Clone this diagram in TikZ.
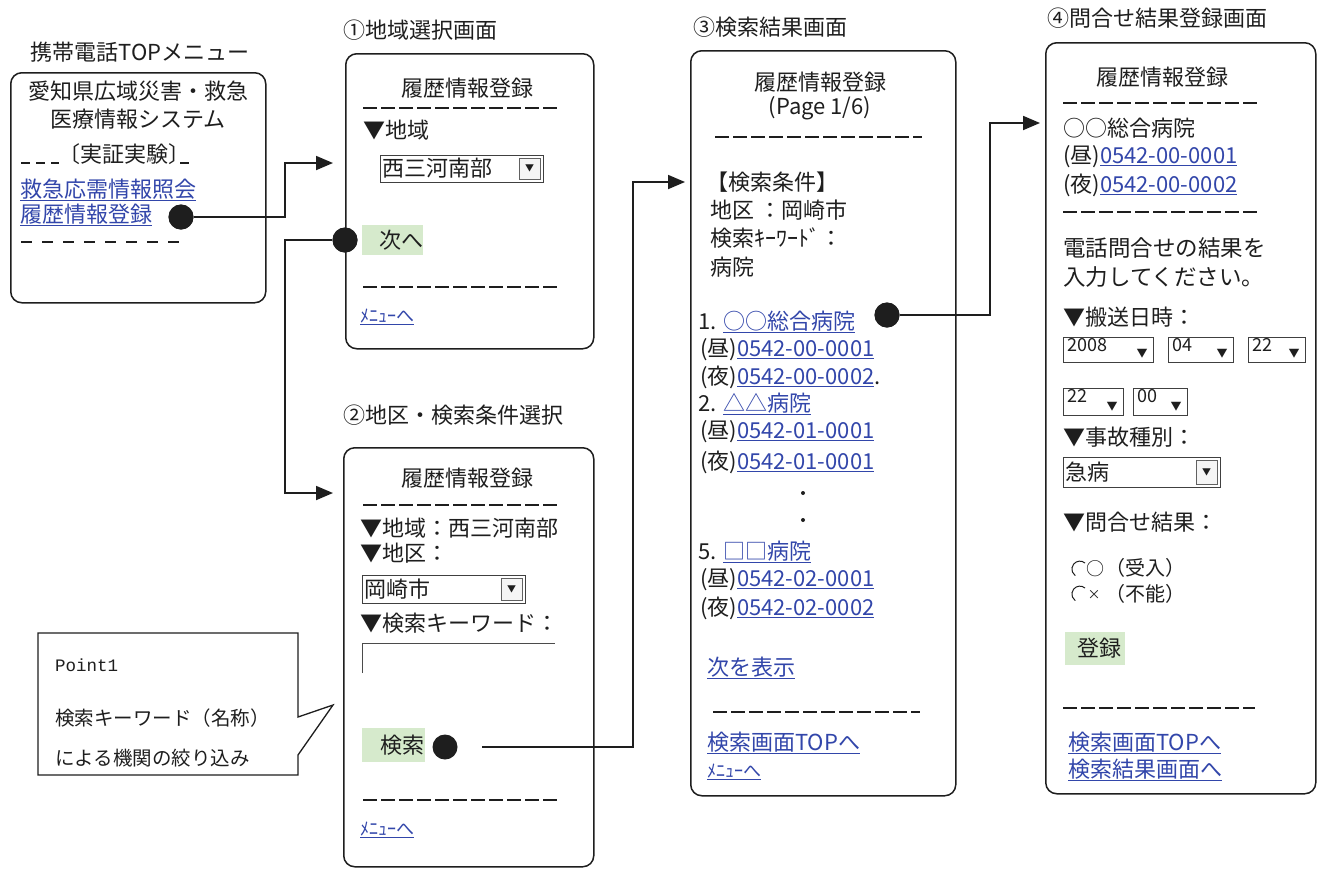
\documentclass[tikz,border=0pt]{standalone}
\usepackage{fontspec}
\setmainfont{Noto Sans CJK JP}
\newfontfamily\monof{Liberation Mono}
\usetikzlibrary{arrows.meta,calc}
\definecolor{linkblue}{RGB}{50,70,170}
\definecolor{btngreen}{RGB}{214,234,204}
\definecolor{ink}{RGB}{30,30,30}
\newcommand{\ddsel}[6]{%
  \node[draw=ink!85,line width=0.9pt,anchor=north west,minimum width={#4-#2},minimum height={#5-#3},inner sep=0pt] (#1) at (#2,#3) {};
  \draw[fill=gray!8,draw=ink!70,line width=0.7pt] ({#4-24},{#3+3}) rectangle ({#4-3},{#5-3});
  \node[inner sep=0pt,font=\fontsize{9}{10}\selectfont,text=ink] (#1-b) at ({#4-13.5},{(#3+#5)/2}) {▼};
  \node[txt] (#1-t) at ({#2+2},{(#3+#5)/2}) {#6};}
\newcommand{\ddmini}[6]{%
  \node[draw=ink!85,line width=0.9pt,anchor=north west,minimum width={#4-#2},minimum height={#5-#3},inner sep=0pt] (#1) at (#2,#3) {};
  \node[inner sep=0pt,font=\fontsize{11}{12}\selectfont,text=ink] (#1-b) at ({#4-11},{#5-8}) {▼};
  \node[inner sep=0pt,anchor=north west,font=\fontsize{18}{19}\selectfont,text=ink] (#1-t) at ({#2+4},{#3+1}) {#6};}
\begin{document}
\begin{tikzpicture}[x=1pt,y=-1pt,
  txt/.style={anchor=west,inner sep=0pt,font=\fontsize{22}{24}\selectfont,text=ink},
  ctr/.style={inner sep=0pt,font=\fontsize{22}{24}\selectfont,text=ink},
  lnk/.style={txt,text=linkblue},
  smalllink/.style={anchor=west,inner sep=0pt,font=\fontsize{18}{19}\selectfont,text=linkblue},
  screen/.style={draw=ink,line width=1.5pt,rounded corners=11pt,anchor=north west,inner sep=0pt},
  sep/.style={draw=ink,line width=1.5pt,dash pattern=on 14pt off 4pt},
  dot/.style={circle,fill=ink,minimum size=25pt,inner sep=0pt},
  conn/.style={draw=ink,line width=1.8pt},
  arr/.style={conn,-{Triangle[length=17pt,width=14pt]}},
  btn/.style={fill=btngreen,draw=none,anchor=north west,inner sep=0pt},
  note/.style={anchor=west,inner sep=0pt,font=\fontsize{19.5}{21}\selectfont,text=ink}]
\useasboundingbox (0,0) rectangle (1324,868);
\fill[white] (0,0) rectangle (1324,868);

% ---------- menu box ----------
\node[ctr] (m-title) at (140,52) {携帯電話TOPメニュー};
\node[screen,minimum width=255,minimum height=230] (s0) at (10,72) {};
\node[ctr] (m-a) at (138,91) {愛知県広域災害・救急};
\node[ctr] (m-b) at (138,119) {医療情報システム};
\draw[ink,line width=1.3pt] (21,163) -- (30,163) (36,163) -- (45,163) (51,163) -- (59,163) (180,163) -- (189,163);
\node[txt] (m-c) at (58,154) {〔実証実験〕};
\node[lnk] (m-l1) at (20,190) {\underline{救急応需情報照会}};
\node[lnk] (m-l2) at (20,215) {\underline{履歴情報登録}};
\draw[ink,line width=1.4pt,dash pattern=on 11pt off 10pt] (21,242) -- (187,242);
\node[dot] (d1) at (181,217) {};

% ---------- screen 1 ----------
\node[txt] (s1-title) at (343,30) {①地域選択画面};
\node[screen,minimum width=248,minimum height=295] (s1) at (345,53) {};
\node[ctr] (s1-h) at (467,88) {履歴情報登録};
\draw[sep] (363,108) -- (560,108);
\node[txt] (s1-a) at (363,130) {▼地域};
\ddsel{s1dd}{380}{155}{543}{182}{西三河南部}
\node[btn,minimum width=61,minimum height=30] (s1-btn) at (362,225) {};
\node[ctr] (s1-bt) at (401,240) {次へ};
\draw[sep] (363,287) -- (560,287);
\node[smalllink] (s1-m) at (360,317) {\underline{ﾒﾆｭｰへ}};
\node[dot] (d2) at (345,240) {};

% ---------- screen 2 ----------
\node[txt] (s2-title) at (343,415) {②地区・検索条件選択};
\node[screen,minimum width=250,minimum height=419] (s2) at (343,447) {};
\node[ctr] (s2-h) at (467,478) {履歴情報登録};
\draw[sep] (363,505) -- (560,505);
\node[txt] (s2-a) at (360,528) {▼地域：西三河南部};
\node[txt] (s2-b) at (360,553) {▼地区：};
\ddsel{s2dd}{362}{575}{525}{603}{岡崎市}
\node[txt] (s2-c) at (360,623) {▼検索キーワード：};
\draw[ink!80,line width=0.9pt] (362,673) -- (362,643) -- (555,643);
\node[btn,minimum width=63,minimum height=34] (s2-btn) at (362,728) {};
\node[ctr] (s2-bt) at (402,745) {検索};
\node[dot] (d3) at (445,747) {};
\coordinate (c3) at (482,747);
\draw[sep] (363,800) -- (560,800);
\node[smalllink] (s2-m) at (360,830) {\underline{ﾒﾆｭｰへ}};

% ---------- screen 3 ----------
\node[txt] (s3-title) at (693,27) {③検索結果画面};
\node[screen,minimum width=265,minimum height=745] (s3) at (690,50) {};
\node[ctr] (s3-h) at (820,82) {履歴情報登録};
\node[ctr] (s3-p) at (820,108) {(Page 1/6)};
\draw[sep] (715,137) -- (922,137);
\node[txt] (s3-a) at (706,182) {【検索条件】};
\node[txt] (s3-b) at (710,210) {地区 ：岡崎市};
\node[txt] (s3-c) at (710,238) {検索ｷｰﾜｰﾄﾞ：};
\node[txt] (s3-d) at (710,267) {病院};
\node[txt] (s3-r1) at (698,322) {1. \textcolor{linkblue}{\underline{○○総合病院}}};
\node[txt] (s3-r1a) at (700,350) {(昼)\textcolor{linkblue}{\underline{0542-00-0001}}};
\node[txt] (s3-r1b) at (700,377) {(夜)\textcolor{linkblue}{\underline{0542-00-0002}}.};
\node[txt] (s3-r2) at (698,404) {2. \textcolor{linkblue}{\underline{△△病院}}};
\node[txt] (s3-r2a) at (700,432) {(昼)\textcolor{linkblue}{\underline{0542-01-0001}}};
\node[txt] (s3-r2b) at (700,462) {(夜)\textcolor{linkblue}{\underline{0542-01-0001}}};
\fill[ink] (803,493) circle (2pt) (803,520) circle (2pt);
\node[txt] (s3-r5) at (698,552) {5. \textcolor{linkblue}{\underline{□□病院}}};
\node[txt] (s3-r5a) at (700,580) {(昼)\textcolor{linkblue}{\underline{0542-02-0001}}};
\node[txt] (s3-r5b) at (700,608) {(夜)\textcolor{linkblue}{\underline{0542-02-0002}}};
\node[lnk] (s3-next) at (707,668) {\underline{次を表示}};
\draw[sep] (713,712) -- (920,712);
\node[lnk] (s3-top) at (707,743) {\underline{検索画面TOPへ}};
\node[smalllink] (s3-m) at (707,772) {\underline{ﾒﾆｭｰへ}};
\node[dot] (d4) at (887,315) {};

% ---------- screen 4 ----------
\node[txt] (s4-title) at (1047,18) {④問合せ結果登録画面};
\node[screen,minimum width=270,minimum height=751] (s4) at (1045,42) {};
\node[ctr] (s4-h) at (1162,77) {履歴情報登録};
\draw[sep] (1063,103) -- (1260,103);
\node[txt] (s4-a) at (1063,128) {○○総合病院};
\node[txt] (s4-b) at (1063,157) {(昼)\textcolor{linkblue}{\underline{0542-00-0001}}};
\node[txt] (s4-c) at (1063,185) {(夜)\textcolor{linkblue}{\underline{0542-00-0002}}};
\draw[sep] (1063,212) -- (1260,212);
\node[txt,font=\fontsize{22.5}{24}\selectfont] (s4-d) at (1063,248) {電話問合せの結果を};
\node[txt,font=\fontsize{22.5}{24}\selectfont] (s4-e) at (1063,277) {入力してください。};
\node[txt] (s4-f) at (1063,317) {▼搬送日時：};
\ddmini{s4y}{1063}{337}{1153}{362}{2008}
\ddmini{s4mo}{1168}{337}{1233}{362}{04}
\ddmini{s4dy}{1248}{337}{1305}{362}{22}
\ddmini{s4hr}{1063}{388}{1123}{415}{22}
\ddmini{s4mi}{1133}{388}{1187}{415}{00}
\node[txt] (s4-g) at (1063,437) {▼事故種別：};
\ddsel{s4dd}{1063}{457}{1220}{487}{急病}
\node[txt] (s4-h2) at (1063,522) {▼問合せ結果：};
\draw[ink,line width=1pt] (1085,563) arc (-50:-235:8);
\draw[ink,line width=1pt] (1085,588) arc (-50:-235:8);
\node[ctr,font=\fontsize{18}{19}\selectfont] (s4-o) at (1095,569) {○};
\node[ctr,font=\fontsize{13}{14}\selectfont] (s4-x) at (1094,595) {×};
\node[txt,font=\fontsize{20}{21}\selectfont] (s4-i) at (1105,568) {（受入）};
\node[txt,font=\fontsize{20}{21}\selectfont] (s4-j) at (1105,594) {（不能）};
\node[btn,minimum width=60,minimum height=33] (s4-btn) at (1065,632) {};
\node[ctr] (s4-bt) at (1099,648) {登録};
\draw[sep] (1063,708) -- (1255,708);
\node[lnk] (s4-top) at (1068,743) {\underline{検索画面TOPへ}};
\node[lnk] (s4-res) at (1068,770) {\underline{検索結果画面へ}};

% ---------- callout ----------
\draw[ink,line width=1.3pt,fill=white] (38,633) -- (298,633) -- (298,717) -- (333,705) -- (298,755) -- (298,775) -- (38,775) -- cycle;
\node[anchor=west,inner sep=0pt,font=\monof\fontsize{17.5}{18}\selectfont,text=ink] (p1) at (55,665) {Point1};
\node[note] (p2) at (55,718) {検索キーワード（名称）};
\node[note] (p3) at (55,758) {による機関の絞り込み};

% ---------- connectors ----------
\coordinate (t1) at (333,163);
\coordinate (t2) at (333,493);
\coordinate (t3) at (685,182);
\coordinate (t4) at (1040,123);
\draw[arr] (d1.east) -- (285,217) |- (t1);
\draw[arr] (d2.west) -- (285,240) |- (t2);
\draw[arr] (c3) -- (633,747) |- (t3);
\draw[arr] (d4.east) -- (990,315) |- (t4);
\node[dot] at (d1) {};
\node[dot] at (d2) {};
\node[dot] at (d4) {};
\end{tikzpicture}
\end{document}
